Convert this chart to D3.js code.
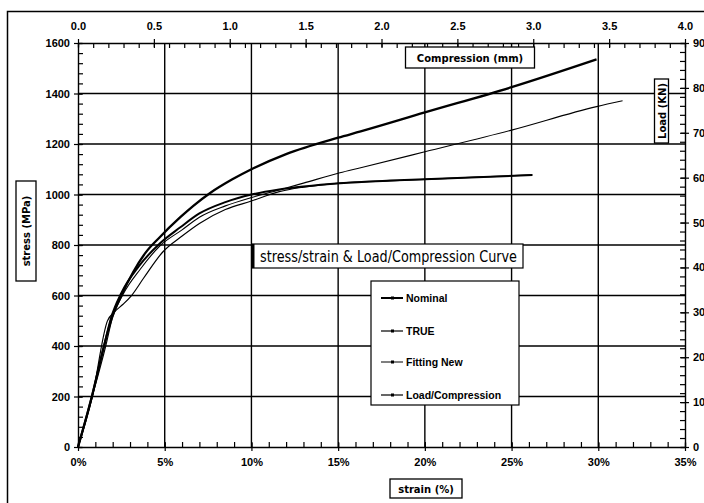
<!DOCTYPE html>
<html>
<head>
<meta charset="utf-8">
<script src="https://cdn.jsdelivr.net/npm/d3@7"></script>
<style>
  body { margin: 0; background: #fff; }
  svg { display: block; }
</style>
</head>
<body>
<div id="chart"></div>
<script>
// stress / strain data (strain in %, stress in MPa)
const strainNominal = [0, 0.8, 1.5, 1.9, 2.5, 3.2, 3.9, 4.7, 5.9, 6.65, 7.6, 8.9, 10, 12, 15, 16.3, 20, 25, 29.9];
const stressNominal = [0, 200, 400, 500, 600, 695, 770, 830, 910, 955, 1005, 1060, 1100, 1160, 1225, 1250, 1325, 1425, 1535];

const strainTrue = [0, 0.8, 1.5, 1.9, 2.5, 3.5, 4.7, 5.9, 7.0, 8.5, 10, 11.6, 13, 15.1, 18, 20, 23, 26.2];
const stressTrue = [0, 200, 400, 510, 610, 715, 805, 870, 925, 970, 1000, 1020, 1032, 1045, 1055, 1060, 1068, 1077];

const strainFit = [0, 0.8, 1.6, 2.0, 2.6, 3.6, 4.7, 6.0, 7.0, 8.5, 10, 11.6, 13, 15.1, 16.3, 20, 25, 29.9, 31.4];
const stressFit = [0, 195, 400, 515, 605, 705, 795, 860, 910, 955, 988, 1018, 1045, 1086, 1106, 1169, 1255, 1348, 1371];

// load / compression data (compression in mm, load in kN) - secondary axes
const compression = [0, 0.091, 0.194, 0.240, 0.297, 0.354, 0.434, 0.560, 0.686, 0.800, 0.971, 1.143, 1.326, 1.486, 1.726, 2.057, 2.286, 2.629, 2.994];
const load = [0, 10.7, 28.1, 30.1, 31.8, 33.8, 37.7, 43.5, 47.0, 49.8, 52.9, 54.8, 56.9, 57.9, 58.8, 59.3, 59.6, 60.1, 60.6];

const strainTicks = [0, 5, 10, 15, 20, 25, 30, 35];
const stressTicks = [0, 200, 400, 600, 800, 1000, 1200, 1400, 1600];
const compTicks = [0, 0.5, 1.0, 1.5, 2.0, 2.5, 3.0, 3.5, 4.0];
const loadTicks = [0, 10, 20, 30, 40, 50, 60, 70, 80, 90];

const seriesNames = ['Nominal', 'TRUE', 'Fitting New', 'Load/Compression'];

const W = 704, H = 503;
const plotL = 78, plotR = 685, plotT = 43, plotB = 447;
const tickFont = "'Liberation Sans Narrow', 'Liberation Sans', Arial, sans-serif";
const boxFont = "'DejaVu Sans', Verdana, sans-serif";

const svg = d3.select('#chart').append('svg')
  .attr('width', W)
  .attr('height', H);

// outer frame
svg.append('path')
  .attr('d', `M7.5,${H + 2} V11.5 H${W + 2}`)
  .attr('fill', 'none')
  .attr('stroke', '#000')
  .attr('stroke-width', 1.5);

const x = d3.scaleLinear().domain([0, 35]).range([plotL, plotR]);
const y = d3.scaleLinear().domain([0, 1600]).range([plotB, plotT]);
const x2 = d3.scaleLinear().domain([0, 4]).range([plotL, plotR]);
const y2 = d3.scaleLinear().domain([0, 90]).range([plotB, plotT]);

// grid
const grid = svg.append('g').attr('stroke', '#000').attr('stroke-width', 1.4);
grid.selectAll('.gx')
  .data(strainTicks.slice(1, -1))
  .enter().append('line')
  .attr('x1', d => x(d)).attr('x2', d => x(d))
  .attr('y1', plotT).attr('y2', plotB);
grid.selectAll('.gy')
  .data(stressTicks.slice(1, -1))
  .enter().append('line')
  .attr('x1', plotL).attr('x2', plotR)
  .attr('y1', d => y(d)).attr('y2', d => y(d));

// axes
function styleAxis(g) {
  g.select('.domain').attr('stroke', '#000').attr('stroke-width', 1.4);
  g.selectAll('.tick line').attr('stroke', '#000').attr('stroke-width', 1.2);
  g.selectAll('text')
    .attr('font-family', tickFont)
    .attr('font-weight', 'bold')
    .attr('font-size', 11)
    .attr('fill', '#000');
}

// minor ticks (inside)
const noLabel = () => '';
svg.append('g').attr('transform', `translate(${plotL},0)`)
  .call(d3.axisRight(y).tickValues(d3.range(0, 1601, 40)).tickSize(5).tickFormat(noLabel))
  .call(g => g.select('.domain').remove())
  .call(styleAxis);
svg.append('g').attr('transform', `translate(0,${plotB})`)
  .call(d3.axisTop(x).tickValues(d3.range(0, 35.01, 1)).tickSize(5).tickFormat(noLabel))
  .call(g => g.select('.domain').remove())
  .call(styleAxis);
svg.append('g').attr('transform', `translate(0,${plotT})`)
  .call(d3.axisBottom(x2).tickValues(d3.range(0, 4.01, 0.1)).tickSize(5).tickFormat(noLabel))
  .call(g => g.select('.domain').remove())
  .call(styleAxis);
svg.append('g').attr('transform', `translate(${plotR},0)`)
  .call(d3.axisLeft(y2).tickValues(d3.range(0, 90.1, 2)).tickSize(5).tickFormat(noLabel))
  .call(g => g.select('.domain').remove())
  .call(styleAxis);

// major axes
svg.append('g').attr('transform', `translate(${plotL},0)`)
  .call(d3.axisLeft(y).tickValues(stressTicks).tickFormat(d3.format('d')).tickSize(4).tickSizeOuter(0))
  .call(styleAxis)
  .call(g => g.selectAll('.tick line').attr('x2', 4).attr('x1', -4))
  .call(g => g.selectAll('.tick text').attr('x', -8));

svg.append('g').attr('transform', `translate(0,${plotB})`)
  .call(d3.axisBottom(x).tickValues(strainTicks).tickFormat(d => d + '%').tickSize(4).tickSizeOuter(0))
  .call(styleAxis)
  .call(g => g.selectAll('.tick line').attr('y1', -4).attr('y2', 4))
  .call(g => g.selectAll('.tick text').attr('y', 11));

svg.append('g').attr('transform', `translate(0,${plotT})`)
  .call(d3.axisTop(x2).tickValues(compTicks).tickFormat(d3.format('.1f')).tickSize(4).tickSizeOuter(0))
  .call(styleAxis)
  .call(g => g.selectAll('.tick line').attr('y1', -4).attr('y2', 4))
  .call(g => g.selectAll('.tick text').attr('y', -13));

svg.append('g').attr('transform', `translate(${plotR},0)`)
  .call(d3.axisRight(y2).tickValues(loadTicks).tickSize(4).tickSizeOuter(0))
  .call(styleAxis)
  .call(g => g.selectAll('.tick line').attr('x1', -4).attr('x2', 4))
  .call(g => g.selectAll('.tick text').attr('x', 8));

// curves
const line1 = d3.line().x(d => x(d[0])).y(d => y(d[1])).curve(d3.curveMonotoneX);
const line2 = d3.line().x(d => x2(d[0])).y(d => y2(d[1])).curve(d3.curveMonotoneX);

const curves = [
  { data: d3.zip(strainFit, stressFit), gen: line1, w: 1.1 },
  { data: d3.zip(compression, load), gen: line2, w: 1.2 },
  { data: d3.zip(strainTrue, stressTrue), gen: line1, w: 2 },
  { data: d3.zip(strainNominal, stressNominal), gen: line1, w: 2.3 }
];
svg.append('g').selectAll('path')
  .data(curves)
  .enter().append('path')
  .attr('d', d => d.gen(d.data))
  .attr('fill', 'none')
  .attr('stroke', '#000')
  .attr('stroke-width', d => d.w)
  .attr('stroke-linejoin', 'round');

// boxed axis titles
function boxLabel(cx, cy, w, h, text, rotate) {
  const g = svg.append('g').attr('transform', `translate(${cx},${cy}) rotate(${rotate || 0})`);
  g.append('rect')
    .attr('x', -w / 2).attr('y', -h / 2).attr('width', w).attr('height', h)
    .attr('fill', '#fff').attr('stroke', '#000').attr('stroke-width', 1.3);
  g.append('text')
    .attr('text-anchor', 'middle')
    .attr('y', 4)
    .attr('font-family', boxFont)
    .attr('font-weight', 'bold')
    .attr('font-size', 10)
    .text(text);
}
boxLabel(470, 57.5, 129, 21, 'Compression (mm)');
boxLabel(426, 488.5, 72, 19, 'strain (%)');
boxLabel(26, 231, 100, 20, 'stress (MPa)', -90);
boxLabel(661.5, 111, 64, 14, 'Load (KN)', -90);

// chart title
const tg = svg.append('g');
tg.append('rect')
  .attr('x', 252).attr('y', 244).attr('width', 271).attr('height', 24)
  .attr('fill', '#fff').attr('stroke', '#000').attr('stroke-width', 1.2);
tg.append('line')
  .attr('x1', 253).attr('x2', 253).attr('y1', 244).attr('y2', 268)
  .attr('stroke', '#000').attr('stroke-width', 3);
tg.append('text')
  .attr('x', 260).attr('y', 262)
  .attr('font-family', "'DejaVu Sans', Verdana, sans-serif")
  .attr('font-size', 15)
  .attr('textLength', 257)
  .attr('lengthAdjust', 'spacingAndGlyphs')
  .text('stress/strain & Load/Compression Curve');

// legend
const lg = svg.append('g');
lg.append('rect')
  .attr('x', 371).attr('y', 281).attr('width', 148).attr('height', 124)
  .attr('fill', '#fff').attr('stroke', '#000').attr('stroke-width', 1.2);
const legendY = [298, 331, 362, 395];
const legendW = [2, 1.2, 1, 1.2];
seriesNames.forEach((name, i) => {
  lg.append('line')
    .attr('x1', 381).attr('x2', 403)
    .attr('y1', legendY[i]).attr('y2', legendY[i])
    .attr('stroke', '#000').attr('stroke-width', legendW[i]);
  lg.append('rect')
    .attr('x', 391).attr('y', legendY[i] - 1.5).attr('width', 3).attr('height', 3)
    .attr('fill', '#000');
  lg.append('text')
    .attr('x', 406).attr('y', legendY[i] + 4)
    .attr('font-family', "'Liberation Sans', Arial, sans-serif")
    .attr('font-weight', 'bold')
    .attr('font-size', 10.5)
    .text(name);
});
</script>
</body>
</html>
